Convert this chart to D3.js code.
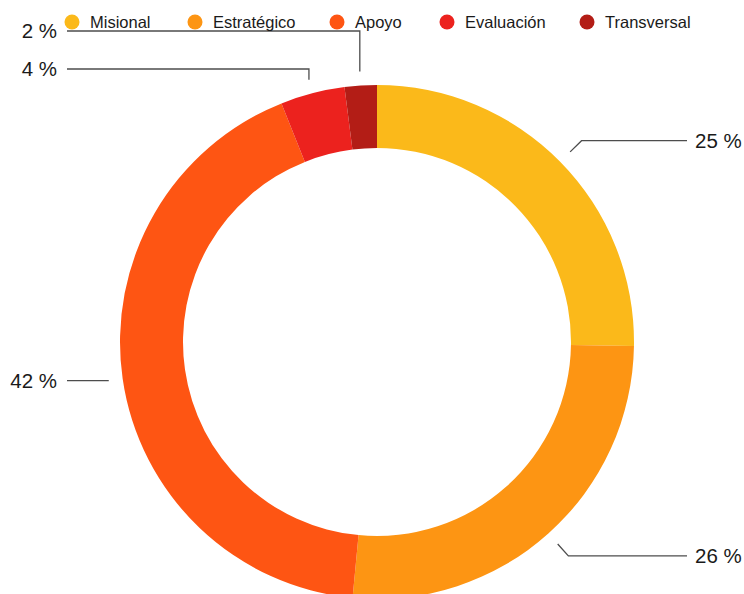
<!DOCTYPE html>
<html>
<head>
<meta charset="utf-8">
<script src="https://cdn.jsdelivr.net/npm/d3@7"></script>
<style>
  html, body { margin: 0; padding: 0; background: #fff; }
  svg { display: block; }
</style>
</head>
<body>
<svg id="chart" width="744" height="594"></svg>
<script>
// Distribution of processes by type (percent)
const categories = ["Misional", "Estratégico", "Apoyo", "Evaluación", "Transversal"];
const values = [25, 26, 42, 4, 2];
const colors = ["#FBB91A", "#FD9513", "#FE5513", "#EC221E", "#B31D16"];

const W = 744, H = 594;
const cx = 377, cy = 342;
const outerR = 257, innerR = 194;
const labelFont = "'Liberation Sans', Arial, Helvetica, sans-serif";

const svg = d3.select("#chart");

const data = categories.map((c, i) => ({ name: c, value: values[i], color: colors[i] }));

const pie = d3.pie().value(d => d.value).sort(null);
const arcs = pie(data);

const arc = d3.arc().innerRadius(innerR).outerRadius(outerR);

const g = svg.append("g").attr("transform", `translate(${cx},${cy})`);

g.selectAll("path.slice")
  .data(arcs)
  .join("path")
  .attr("class", "slice")
  .attr("d", arc)
  .attr("fill", d => d.data.color);

// Leader lines and percentage labels
const startArc = d3.arc().innerRadius(271).outerRadius(271);
const elbowArc = d3.arc().innerRadius(287).outerRadius(287);

// Placement style per slice: right side with an elbow, left side straight,
// small top slices go up first then run left.
const placement = [
  { side: "right" },
  { side: "right" },
  { side: "left" },
  { side: "up", y: 69 },
  { side: "up", y: 31 }
];

const lines = svg.append("g")
  .attr("fill", "none")
  .attr("stroke", "#4d4d4d")
  .attr("stroke-width", 1.3);

const labels = svg.append("g")
  .attr("font-family", labelFont)
  .attr("font-size", 20.5)
  .attr("fill", "#1a1a1a");

arcs.forEach((a, i) => {
  const p = placement[i];
  const [sx0, sy0] = startArc.centroid(a);
  const sx = sx0 + cx, sy = sy0 + cy;
  let pts, tx, ty, anchor;
  if (p.side === "right") {
    const [ex0, ey0] = elbowArc.centroid(a);
    const ex = ex0 + cx, ey = ey0 + cy;
    pts = [[sx, sy], [ex, ey], [687, ey]];
    tx = 695; ty = ey; anchor = "start";
  } else if (p.side === "left") {
    pts = [[sx, sy], [67, sy]];
    tx = 57; ty = sy; anchor = "end";
  } else {
    pts = [[sx, sy], [sx, p.y], [67, p.y]];
    tx = 57; ty = p.y; anchor = "end";
  }
  lines.append("path").attr("d", d3.line()(pts));
  labels.append("text")
    .attr("x", tx)
    .attr("y", ty)
    .attr("dy", "0.36em")
    .attr("text-anchor", anchor)
    .text(`${a.data.value} %`);
});

// Legend
const legendX = [72, 195, 337, 447, 587];
const legend = svg.append("g")
  .attr("font-family", labelFont)
  .attr("font-size", 16.5)
  .attr("fill", "#1a1a1a");

data.forEach((d, i) => {
  legend.append("circle")
    .attr("cx", legendX[i])
    .attr("cy", 22)
    .attr("r", 7.5)
    .attr("fill", d.color);
  legend.append("text")
    .attr("x", legendX[i] + 18)
    .attr("y", 22)
    .attr("dy", "0.36em")
    .text(d.name);
});
</script>
</body>
</html>
